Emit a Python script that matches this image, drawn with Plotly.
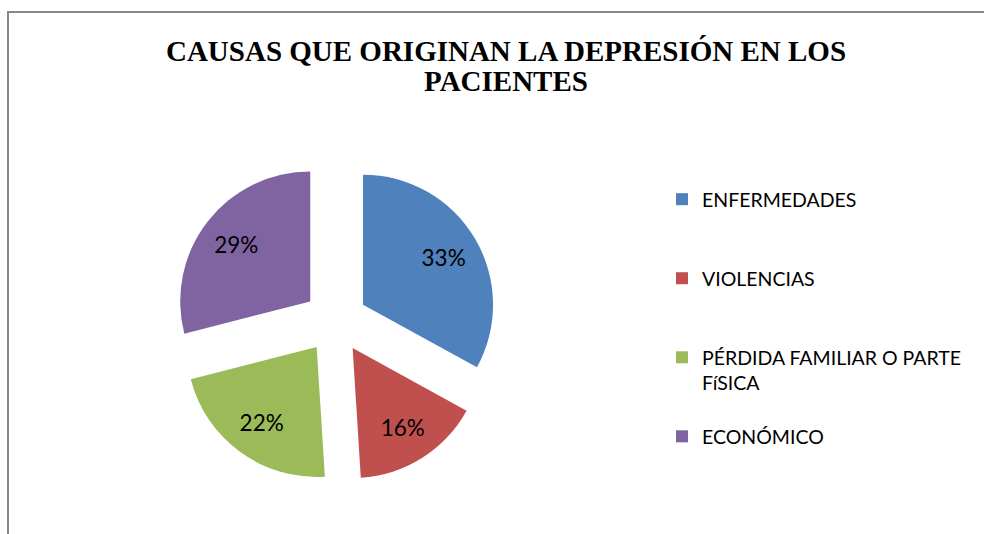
import plotly.graph_objects as go

categories = ["ENFERMEDADES", "VIOLENCIAS", "PÉRDIDA FAMILIAR O PARTE FíSICA", "ECONÓMICO"]
legend_labels = ["ENFERMEDADES<br> <br> ", "VIOLENCIAS<br> <br> ", "PÉRDIDA FAMILIAR O PARTE<br>FíSICA<br> ", "ECONÓMICO"]
values = [33, 16, 22, 29]
colors = ["#4F81BD", "#C0504D", "#9BBB59", "#8064A2"]

W, H = 984, 534
pie_domain = dict(x=[173.5 / W, 497.5 / W], y=[51 / H, 375 / H])
pull = [0.246] * len(values)

fig = go.Figure()
# coloured slices + legend
fig.add_trace(go.Pie(
    labels=legend_labels,
    values=values,
    customdata=categories,
    sort=False,
    direction="clockwise",
    rotation=0,
    pull=pull,
    marker=dict(colors=colors, line=dict(width=0)),
    textinfo="none",
    hovertemplate="%{customdata}: %{percent}<extra></extra>",
    domain=pie_domain,
))
# percentage labels (same geometry, transparent, ring to place labels further out)
fig.add_trace(go.Pie(
    labels=legend_labels,
    values=values,
    customdata=categories,
    sort=False,
    direction="clockwise",
    rotation=0,
    pull=pull,
    hole=0.44,
    showlegend=False,
    marker=dict(colors=["rgba(0,0,0,0)"] * len(values), line=dict(width=0)),
    textinfo="percent",
    textposition="inside",
    insidetextorientation="horizontal",
    textfont=dict(family="Lato", size=22.5, color="#000000"),
    hovertemplate="%{customdata}: %{percent}<extra></extra>",
    domain=pie_domain,
))

fig.update_layout(
    width=W, height=H,
    margin=dict(l=0, r=0, t=0, b=0),
    paper_bgcolor="white",
    plot_bgcolor="white",
    title=dict(
        text=("<span style='font-size:29px'>CAUSAS QUE ORIGINAN LA DEPRESIÓN EN LOS</span>"
              "<br><span style='font-size:29px'>PACIENTES</span>"),
        font=dict(family="Liberation Serif", size=23, color="#000000", weight="bold"),
        x=506 / W, xanchor="center",
        y=1 - 61 / H, yanchor="top", yref="container",
    ),
    showlegend=True,
    legend=dict(
        x=662 / W, xanchor="left",
        y=1 - 180 / H, yanchor="top",
        valign="top",
        font=dict(family="Lato", size=19.5, color="#000000"),
        bgcolor="rgba(0,0,0,0)",
    ),
    shapes=[dict(
        type="rect", xref="paper", yref="paper",
        x0=8 / W, x1=1.02, y0=-0.05, y1=1 - 12 / H,
        line=dict(color="#888888", width=2),
        layer="below",
    )],
)

fig.write_html("out.html", post_script="document.body.style.margin='0';",
               config={"displayModeBar": False})
